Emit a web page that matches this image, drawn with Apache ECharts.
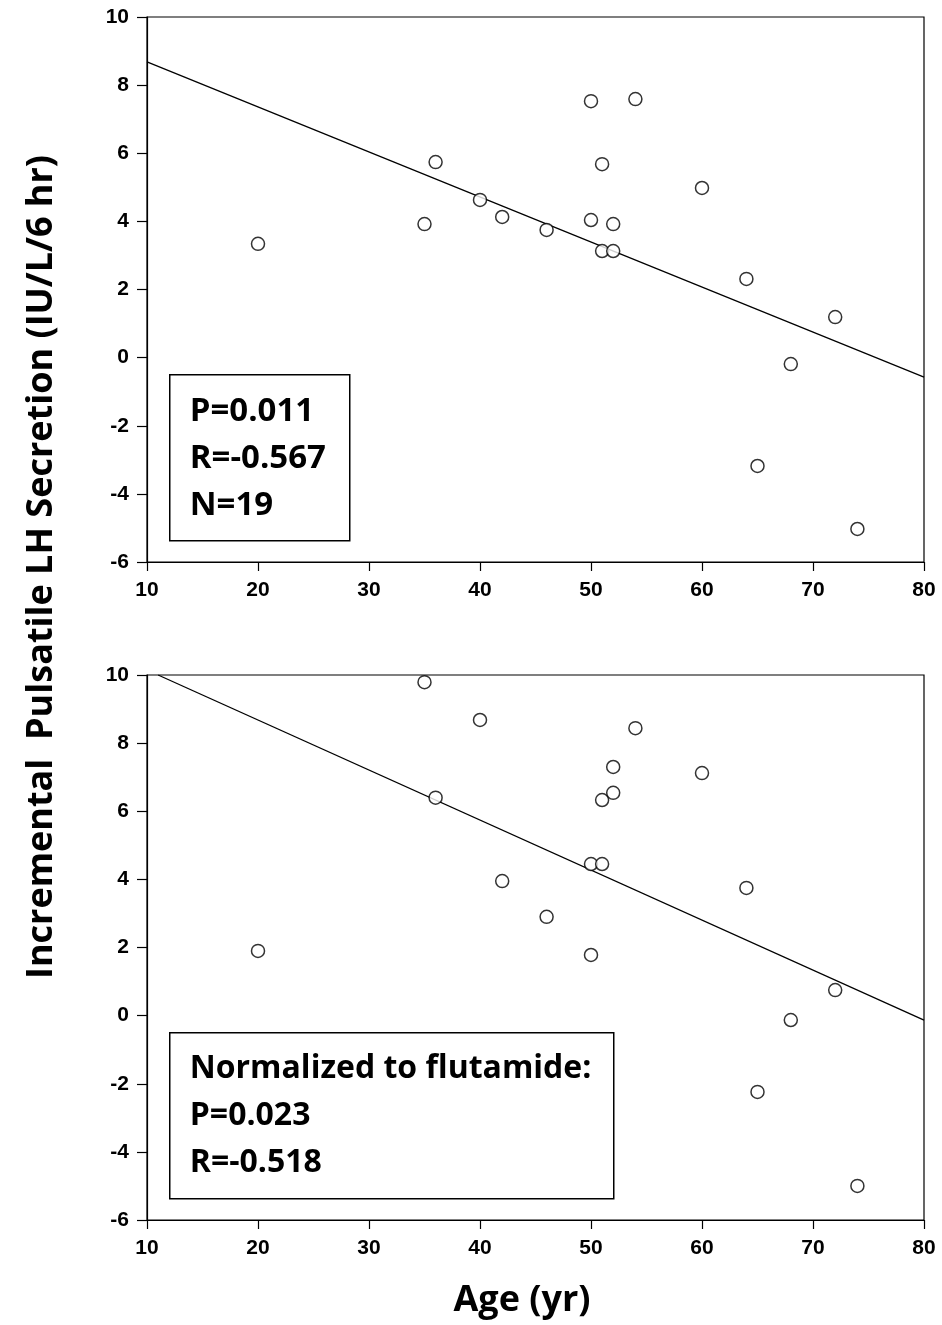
<!DOCTYPE html>
<html>
<head>
<meta charset="utf-8">
<script src="https://cdn.jsdelivr.net/npm/echarts@6/dist/echarts.min.js"></script>
<style>
  html, body { margin: 0; padding: 0; background: #fff; }
  #chart { width: 942px; height: 1325px; }
</style>
</head>
<body>
<div id="chart"></div>
<script>
// ages, same subjects in both panels
var agesTop = [20, 35, 36, 40, 42, 46, 50, 50, 51, 51, 52, 52, 54, 60, 64, 65, 68, 72, 74];
var lhTop   = [3.34, 3.92, 5.74, 4.63, 4.13, 3.75, 7.53, 4.04, 5.68, 3.13, 3.92, 3.13, 7.59, 4.98, 2.31, -3.18, -0.19, 1.19, -5.03];
var fitTop  = [[10, 8.68], [80, -0.57]];

var agesBottom = [20, 35, 36, 40, 42, 46, 50, 50, 51, 51, 52, 52, 54, 60, 64, 65, 68, 72, 74];
var lhBottom   = [1.9, 9.79, 6.4, 8.68, 3.95, 2.9, 1.78, 4.45, 4.45, 6.33, 6.54, 7.3, 8.44, 7.12, 3.75, -2.24, -0.13, 0.75, -5.0];
var fitBottom  = [[11, 10], [80, -0.13]];

var xTicks = [10, 20, 30, 40, 50, 60, 70, 80];
var yTicks = [-6, -4, -2, 0, 2, 4, 6, 8, 10];

var statsTop = ["P=0.011", "R=-0.567", "N=19"];
var statsBottom = ["Normalized to flutamide:", "P=0.023", "R=-0.518"];

var yTitle = "Incremental  Pulsatile LH Secretion (IU/L/6 hr)";
var xTitle = "Age (yr)";

var chart = echarts.init(document.getElementById("chart"));

var tickFont = {
    color: "#000",
    fontFamily: "'Liberation Sans Narrow', 'Liberation Sans', Arial",
    fontWeight: "bold",
    fontSize: 21
};

function pairs(xs, ys) {
    return xs.map(function (x, i) { return [x, ys[i]]; });
}

function xAxis(idx) {
    return {
        gridIndex: idx, type: "value", min: xTicks[0], max: xTicks[xTicks.length - 1], interval: 10,
        axisLine: { onZero: false, lineStyle: { color: "#000", width: 1.2 } },
        axisTick: { show: true, length: 9, lineStyle: { color: "#000", width: 1.2 } },
        axisLabel: Object.assign({ margin: 18 }, tickFont),
        splitLine: { show: false }
    };
}

function yAxis(idx) {
    return {
        gridIndex: idx, type: "value", min: yTicks[0], max: yTicks[yTicks.length - 1], interval: 2,
        axisLine: { show: true, onZero: false, lineStyle: { color: "#000", width: 1.2 } },
        axisTick: { show: true, length: 10, lineStyle: { color: "#000", width: 1.2 } },
        axisLabel: Object.assign({ margin: 18 }, tickFont),
        splitLine: { show: false }
    };
}

function scatter(idx, data) {
    return {
        type: "scatter", xAxisIndex: idx, yAxisIndex: idx,
        data: data, symbol: "circle", symbolSize: 13,
        itemStyle: { color: "#fff", borderColor: "#000", borderWidth: 1.5 },
        z: 3
    };
}

function fit(idx, data) {
    return {
        type: "line", xAxisIndex: idx, yAxisIndex: idx,
        data: data, symbol: "none",
        lineStyle: { color: "#000", width: 1.3 },
        z: 2
    };
}

function statBox(left, top, w, h, lines, size) {
    return {
        type: "group", left: left, top: top,
        children: [
            { type: "rect", shape: { x: 0, y: 0, width: w, height: h },
              style: { fill: "#fff", stroke: "#000", lineWidth: 1.5 } },
            { type: "text", left: 20, top: 13,
              style: { text: lines.join("\n"), font: "bold " + size + "px 'Open Sans', 'Noto Sans', sans-serif",
                       fill: "#000", lineHeight: 47 } }
        ]
    };
}

chart.setOption({
    animation: false,
    backgroundColor: "#fff",
    grid: [
        { left: 147, right: 18, top: 17, height: 545, show: true, borderColor: "#000", borderWidth: 1.2 },
        { left: 147, right: 18, top: 675, height: 545, show: true, borderColor: "#000", borderWidth: 1.2 }
    ],
    xAxis: [xAxis(0), xAxis(1)],
    yAxis: [yAxis(0), yAxis(1)],
    series: [
        fit(0, fitTop),
        scatter(0, pairs(agesTop, lhTop)),
        fit(1, fitBottom),
        scatter(1, pairs(agesBottom, lhBottom))
    ],
    graphic: [
        statBox(169, 374, 180, 166, statsTop, 33),
        statBox(169, 1032, 444, 166, statsBottom, 32),
        {
            type: "text", x: 42, y: 567, rotation: Math.PI / 2,
            style: { text: yTitle, font: "bold 36px 'Open Sans', 'Noto Sans', sans-serif",
                     fill: "#000", align: "center", verticalAlign: "middle" }
        },
        {
            type: "text", x: 522, y: 1301,
            style: { text: xTitle, font: "bold 36px 'Open Sans', 'Noto Sans', sans-serif",
                     fill: "#000", align: "center", verticalAlign: "middle" }
        }
    ]
});
</script>
</body>
</html>
